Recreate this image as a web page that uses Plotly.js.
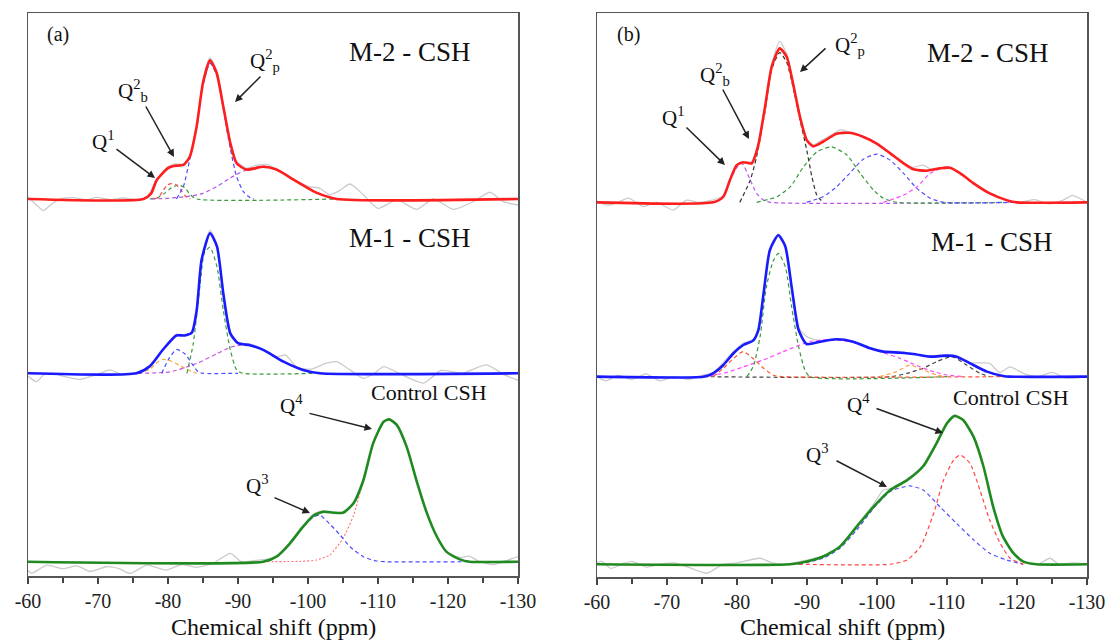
<!DOCTYPE html>
<html><head><meta charset="utf-8">
<script src="https://cdn.plot.ly/plotly-3.0.1.min.js"></script>
<style>html,body{margin:0;padding:0;background:#fff}#chart{width:1107px;height:642px}</style>
</head><body><div id="chart"></div><script>
// ---- axis ticks ----
const tickVals = [-60,-70,-80,-90,-100,-110,-120,-130];
const tickText = ['-60','-70','-80','-90','-100','-110','-120','-130'];
const minorVals = [-65,-75,-85,-95,-105,-115,-125];

// ---- panel (a) : M-2 - CSH  [ppm, intensity] ----
const aM2_fit = [[-60,0],[-76.5,0],[-77.6,0.04],[-78.4,0.136],[-80.0,0.22],[-80.8,0.236],[-82.2,0.243],[-83.1,0.30],[-84.1,0.52],[-85.0,0.83],[-86.0,0.99],[-86.95,0.90],[-87.9,0.66],[-88.9,0.40],[-89.8,0.255],[-91.2,0.21],[-93.6,0.23],[-95.5,0.21],[-98.4,0.124],[-101.2,0.045],[-104.1,0],[-130,0]];
const aM2_exp = [[-60,0.017],[-61.2,-0.043],[-62.2,-0.083],[-63.2,-0.043],[-64.6,0],[-66.5,0.01],[-68.4,-0.005],[-69.8,0.012],[-71.7,-0.005],[-73.6,0.007],[-75.5,-0.005],[-76.9,0.007],[-78.4,0.14],[-80,0.23],[-81,0.25],[-82.2,0.25],[-83.1,0.31],[-84.1,0.53],[-85,0.85],[-86,1.01],[-87,0.91],[-87.9,0.67],[-88.9,0.41],[-89.8,0.27],[-91.2,0.22],[-92.5,0.24],[-94.2,0.245],[-95.5,0.21],[-98.4,0.13],[-100,0.09],[-101.7,0.076],[-103.1,0.03],[-104.5,0.06],[-106,0.107],[-107.9,0.03],[-110,-0.067],[-112.7,-0.007],[-115.5,-0.074],[-117.9,0],[-120.8,-0.074],[-123.6,-0.019],[-126,0.048],[-127.9,-0.019],[-130,-0.043]];
const aM2_q1 = [[-78.0,0],[-78.6,0.01],[-79.3,0.06],[-79.9,0.10],[-80.5,0.11],[-81.2,0.10],[-81.9,0.06],[-82.5,0.02],[-83.2,0]];
const aM2_q2b = [[-77.4,0],[-78.5,0.01],[-79.5,0.04],[-80.5,0.08],[-81.5,0.10],[-82.4,0.08],[-83.2,0.03],[-84.1,0],[-104,0]];
const aM2_q2p = [[-81.2,0],[-82.2,0.09],[-83.1,0.28],[-84.1,0.52],[-85,0.81],[-86,0.97],[-87,0.88],[-87.9,0.64],[-88.9,0.36],[-89.8,0.16],[-90.8,0.05],[-91.7,0.01],[-92.3,0]];
const aM2_broad = [[-77.6,0],[-80,0.005],[-83.1,0.02],[-85,0.04],[-87,0.09],[-88.9,0.15],[-90.8,0.20],[-92.7,0.23],[-93.6,0.235],[-95.5,0.21],[-98.4,0.124],[-101.2,0.045],[-104.1,0]];

// ---- panel (a) : M-1 - CSH ----
const aM1_fit = [[-60,0],[-75.5,0],[-77.4,0.05],[-79.3,0.17],[-81.2,0.27],[-82.4,0.27],[-83.4,0.29],[-84.1,0.45],[-84.8,0.81],[-86.0,1.0],[-87.0,0.905],[-87.9,0.57],[-88.9,0.285],[-90.0,0.215],[-91.7,0.20],[-93.6,0.167],[-96.5,0.083],[-99.3,0.024],[-101.7,0],[-130,0]];
const aM1_exp = [[-60,-0.02],[-61.2,-0.06],[-62.2,-0.012],[-63.5,0],[-65,-0.02],[-67.4,-0.043],[-70.3,0],[-71.7,0.024],[-73.5,-0.01],[-75.5,0.005],[-77.4,0.055],[-79.3,0.17],[-81.2,0.28],[-82.4,0.27],[-83.4,0.29],[-84.1,0.46],[-84.8,0.82],[-86,1.02],[-87,0.92],[-87.9,0.58],[-88.9,0.29],[-90,0.22],[-91.7,0.21],[-93.6,0.17],[-95.5,0.12],[-96.8,0.13],[-98.5,0.04],[-100.5,0.03],[-102.5,0.07],[-104.1,0.083],[-106,0.024],[-107.9,-0.036],[-109.5,0],[-110.8,0.048],[-113,0],[-116.5,-0.07],[-119,0.02],[-122,0],[-125.5,0.06],[-128,-0.01],[-130,-0.05]];
const aM1_q1 = [[-75.7,0],[-77.4,0.03],[-78.5,0.08],[-79.3,0.1],[-80.3,0.09],[-81.5,0.06],[-82.8,0.025],[-84.1,0]];
const aM1_q2b = [[-79.1,0],[-80.2,0.11],[-81.2,0.17],[-82.4,0.14],[-83.4,0.07],[-84.3,0.01],[-85,0],[-90,0]];
const aM1_q2p = [[-82.7,0],[-83.6,0.21],[-84.6,0.64],[-85.2,0.86],[-86.0,0.90],[-87,0.76],[-87.9,0.45],[-88.9,0.167],[-89.8,0.024],[-90.7,0],[-101.5,0]];
const aM1_broad = [[-75.7,0],[-80.3,0.01],[-84.1,0.07],[-87,0.14],[-88.9,0.185],[-90.2,0.20],[-91.7,0.20],[-93.6,0.167],[-96.5,0.083],[-99.3,0.024],[-101.7,0]];

// ---- panel (a) : Control CSH ----
const aC_fit = [[-60,0],[-93.6,0],[-95.5,0.036],[-97.4,0.13],[-99.3,0.25],[-100.8,0.33],[-102.2,0.357],[-103.6,0.35],[-105.0,0.35],[-106.5,0.417],[-107.9,0.58],[-109.3,0.845],[-110.8,1.0],[-111.6,1.017],[-112.7,0.976],[-114.1,0.82],[-115.5,0.58],[-117.0,0.345],[-118.4,0.18],[-119.8,0.07],[-121.7,0.017],[-123.1,0],[-130,0]];
const aC_exp = [[-60,-0.06],[-60.5,-0.083],[-62.7,-0.024],[-65,-0.05],[-67,-0.03],[-68.9,-0.07],[-71.2,-0.036],[-73,-0.05],[-74.6,-0.083],[-77,-0.024],[-79.7,-0.06],[-82,-0.02],[-84,-0.04],[-86.5,-0.01],[-88.9,0.06],[-90.5,0],[-92.5,0.01],[-94.5,0.02],[-95.5,0.04],[-97.4,0.135],[-99.3,0.26],[-100.8,0.34],[-102.2,0.365],[-103.6,0.355],[-105,0.355],[-106.5,0.42],[-107.9,0.585],[-109.3,0.85],[-110.8,1.0],[-111.6,1.02],[-112.7,0.98],[-114.1,0.82],[-115.5,0.58],[-117,0.345],[-118.4,0.18],[-119.8,0.07],[-121.7,0.03],[-123,0.04],[-124.5,0],[-126.5,-0.02],[-128.5,0.01],[-130,0.036]];
const aC_q3 = [[-93.6,0],[-95.5,0.036],[-97.4,0.13],[-99.3,0.25],[-100.8,0.32],[-101.7,0.333],[-103.1,0.27],[-104.6,0.19],[-106,0.107],[-107.9,0.036],[-109.8,0.005],[-111,0],[-123,0]];
const aC_q4 = [[-93.6,0],[-99,0.003],[-101.2,0.012],[-103.1,0.048],[-105,0.167],[-106.5,0.33],[-107.9,0.58],[-109.3,0.845],[-110.8,1.0],[-111.6,1.017],[-112.7,0.976],[-114.1,0.82],[-115.5,0.58],[-117.0,0.345],[-118.4,0.18],[-119.8,0.07],[-121.7,0.017],[-123.1,0]];

// ---- panel (b) : M-2 - CSH ----
const bM2_fit = [[-60,0],[-76.6,0],[-78.05,0.04],[-79.0,0.16],[-79.96,0.266],[-80.9,0.286],[-82.1,0.279],[-83.0,0.40],[-84.0,0.68],[-84.96,0.97],[-86.1,1.10],[-87.1,1.04],[-88.0,0.85],[-89.0,0.61],[-89.96,0.445],[-90.9,0.40],[-92.3,0.433],[-94.2,0.49],[-96.1,0.497],[-98.0,0.469],[-99.96,0.42],[-101.9,0.35],[-103.8,0.279],[-105.2,0.236],[-107.1,0.226],[-109.0,0.243],[-110.4,0.247],[-111.9,0.207],[-113.8,0.136],[-116.1,0.064],[-118.5,0.016],[-119.96,0],[-130,0]];
const bM2_exp = [[-60,0.01],[-61.5,-0.02],[-63,0],[-64.5,0.03],[-66.6,-0.03],[-68.5,0],[-70.9,-0.055],[-72.8,0.016],[-74.5,0],[-76,0.01],[-78.05,0.05],[-79,0.17],[-80,0.27],[-80.9,0.29],[-82.1,0.29],[-83,0.41],[-84,0.69],[-85,0.99],[-86.1,1.15],[-87.1,1.06],[-88,0.86],[-89,0.62],[-90,0.45],[-90.9,0.41],[-92.3,0.45],[-93.8,0.49],[-94.8,0.52],[-96.1,0.50],[-98,0.47],[-100,0.42],[-101.9,0.35],[-103.8,0.28],[-105.2,0.25],[-106.6,0.266],[-108,0.23],[-109,0.245],[-110.4,0.25],[-111.9,0.21],[-113.8,0.14],[-116.1,0.07],[-118.5,0.02],[-120.5,0],[-122.5,0.02],[-124.5,-0.01],[-126.6,0.016],[-127.9,0.05],[-130,0]];
const bM2_q1 = [[-76.6,0],[-78.05,0.04],[-79.0,0.16],[-80.0,0.25],[-80.7,0.279],[-81.9,0.16],[-82.8,0.064],[-83.8,0.016],[-84.8,0],[-120,0]];
const bM2_q2p = [[-80.4,0],[-81.9,0.16],[-82.8,0.326],[-84,0.65],[-84.96,0.95],[-86.1,1.07],[-87.1,1.0],[-88,0.826],[-89,0.59],[-89.96,0.374],[-90.7,0.183],[-91.4,0.052],[-92.3,0]];
const bM2_c3 = [[-82.8,0],[-85.7,0.04],[-87.6,0.11],[-89.5,0.254],[-91.4,0.36],[-93.5,0.397],[-95.7,0.338],[-97.6,0.207],[-99.5,0.088],[-100.9,0.029],[-102.9,0],[-118,0]];
const bM2_c4 = [[-89.96,0],[-92.3,0.04],[-94.2,0.11],[-96.1,0.207],[-98,0.307],[-99.96,0.345],[-101.9,0.30],[-103.8,0.207],[-105.7,0.1],[-107.6,0.029],[-109.6,0],[-120,0]];
const bM2_c5 = [[-100.9,0],[-103.8,0.052],[-105.7,0.11],[-107.6,0.207],[-110,0.254],[-111.9,0.207],[-113.8,0.136],[-116.1,0.064],[-118.5,0.016],[-120,0]];

// ---- panel (b) : M-1 - CSH ----
const bM1_fit = [[-60,0],[-75.2,0],[-76.6,0.024],[-78.05,0.083],[-79.5,0.167],[-80.9,0.226],[-82.3,0.257],[-83.05,0.333],[-83.8,0.596],[-84.7,0.905],[-85.9,1.01],[-86.9,0.93],[-87.8,0.643],[-88.8,0.333],[-89.96,0.233],[-91.9,0.25],[-94.2,0.267],[-96.6,0.25],[-99.0,0.203],[-100.9,0.179],[-103.3,0.171],[-105.2,0.162],[-107.6,0.143],[-110.0,0.15],[-111.4,0.143],[-113.3,0.095],[-115.7,0.036],[-118.0,0.005],[-118.9,0],[-130,0]];
const bM1_exp = [[-60,0],[-61.3,-0.03],[-63,0.01],[-65,-0.02],[-67,0.02],[-69,-0.03],[-71,0],[-73,-0.02],[-75,0.01],[-76.6,0.03],[-78.05,0.1],[-79.5,0.18],[-80.9,0.24],[-82.3,0.265],[-83.05,0.34],[-83.8,0.6],[-84.7,0.91],[-85.9,1.02],[-86.9,0.94],[-87.8,0.65],[-88.8,0.35],[-89.96,0.286],[-91.9,0.255],[-94.2,0.27],[-96.6,0.25],[-99,0.21],[-100.9,0.18],[-103.3,0.18],[-105.2,0.16],[-107.6,0.15],[-110,0.155],[-111.4,0.145],[-113.3,0.1],[-116.1,0.095],[-117.5,0.03],[-119,0.07],[-120.9,0.024],[-123,0],[-125,0.03],[-127,-0.01],[-130,0]];
const bM1_q1 = [[-76.6,0],[-78.05,0.06],[-79.5,0.13],[-80.9,0.179],[-82.3,0.13],[-83.8,0.06],[-85.2,0.01],[-86.4,0],[-118,0]];
const bM1_q2p = [[-81.4,0],[-82.3,0.07],[-83.3,0.286],[-84.2,0.643],[-85.2,0.83],[-85.9,0.88],[-86.9,0.786],[-87.8,0.5],[-88.8,0.214],[-89.7,0.048],[-90.4,0],[-110,0]];
const bM1_c3 = [[-75.2,0],[-78.05,0.024],[-80.9,0.07],[-83.8,0.12],[-86.6,0.179],[-89.0,0.226],[-90.4,0.25],[-92,0.262],[-94.2,0.262],[-96.6,0.245],[-99.0,0.20],[-100.9,0.171],[-103.3,0.131],[-105.2,0.09],[-107.6,0.043],[-110,0.012],[-112.4,0]];
const bM1_c4 = [[-100.4,0],[-102.8,0.036],[-104.7,0.083],[-106.6,0.048],[-108.5,0.012],[-110,0]];
const bM1_c5 = [[-75.2,0],[-101.9,0],[-104.3,0.024],[-106.6,0.06],[-108.5,0.107],[-110.7,0.143],[-112.8,0.083],[-114.7,0.024],[-116.1,0]];

// ---- panel (b) : Control CSH ----
const bC_fit = [[-60,0],[-87.6,0],[-89.96,0.019],[-92.3,0.055],[-94.7,0.126],[-97.1,0.269],[-99.5,0.41],[-101.9,0.53],[-104.3,0.60],[-106.6,0.70],[-108.5,0.864],[-110.0,1.007],[-111.1,1.06],[-112.3,1.03],[-113.8,0.91],[-115.2,0.70],[-116.6,0.41],[-118.0,0.197],[-119.5,0.079],[-120.9,0.019],[-122.8,0],[-130,0]];
const bC_exp = [[-60,0.01],[-60.7,0.02],[-62,-0.03],[-63.5,0],[-65,0.02],[-67,-0.02],[-69,0],[-71,0.01],[-73,-0.02],[-75.7,-0.064],[-78,0],[-80,0.01],[-83.3,0.043],[-85,0.01],[-87,0],[-90,0.03],[-92.3,0.06],[-94.7,0.13],[-97.1,0.27],[-99.5,0.43],[-100.9,0.53],[-101.9,0.54],[-104.3,0.61],[-106.6,0.71],[-108.5,0.87],[-110,1.01],[-111.1,1.06],[-112.3,1.03],[-113.8,0.91],[-115.2,0.7],[-116.6,0.41],[-118,0.2],[-119.5,0.08],[-121,0.02],[-123,0],[-124.7,0.043],[-126,0],[-128,0.01],[-130,0.005]];
const bC_q3 = [[-88.8,0],[-92.3,0.043],[-94.7,0.114],[-97.1,0.245],[-99.5,0.40],[-101.9,0.52],[-104.7,0.56],[-106.6,0.53],[-109,0.41],[-111.4,0.29],[-113.8,0.174],[-116.1,0.079],[-118.5,0.031],[-120.9,0]];
const bC_q4 = [[-88.8,0],[-101.9,0],[-104.3,0.031],[-106.2,0.126],[-108.1,0.364],[-109.5,0.60],[-110.95,0.745],[-111.9,0.78],[-113.3,0.72],[-114.7,0.53],[-116.1,0.316],[-117.6,0.15],[-119,0.043],[-120.9,0]];

// ---- build ----
const W = 1107, H = 642;
const FONT = 'Liberation Serif, Times New Roman, serif';
const DASH = '4px,3px';
function tr(pts, off, xa, ya, color, width, dash) {
  return {x: pts.map(p => p[0]), y: pts.map(p => p[1] + off), xaxis: xa, yaxis: ya,
    type: 'scatter', mode: 'lines', hoverinfo: 'skip', showlegend: false,
    line: {color: color, width: width, dash: dash || 'solid', shape: 'spline', smoothing: 0.6}};
}
const GRAY = '#cbcbcb';
const offA = {m2: 2.593, m1: 1.348, c: 0.002};
const offB = {m2: 2.576, m1: 1.331, c: -0.009};
const traces = [
  // panel a
  tr(aM2_exp, offA.m2, 'x', 'y', GRAY, 1.3),
  tr(aM2_q2b, offA.m2, 'x', 'y', '#3a9a3a', 1.2, DASH),
  tr(aM2_q1, offA.m2, 'x', 'y', '#ff4a4a', 1.2, DASH),
  tr(aM2_broad, offA.m2, 'x', 'y', '#b657e0', 1.2, DASH),
  tr(aM2_q2p, offA.m2, 'x', 'y', '#4b4bff', 1.2, DASH),
  tr(aM2_fit, offA.m2, 'x', 'y', '#ff1e1e', 2.6),
  tr(aM1_exp, offA.m1, 'x', 'y', GRAY, 1.3),
  tr(aM1_q1, offA.m1, 'x', 'y', '#ffaa33', 1.2, DASH),
  tr(aM1_broad, offA.m1, 'x', 'y', '#c455dd', 1.2, DASH),
  tr(aM1_q2b, offA.m1, 'x', 'y', '#4b4bff', 1.2, DASH),
  tr(aM1_q2p, offA.m1, 'x', 'y', '#3a9a3a', 1.2, DASH),
  tr(aM1_fit, offA.m1, 'x', 'y', '#1a1aff', 2.6),
  tr(aC_exp, offA.c, 'x', 'y', GRAY, 1.3),
  tr(aC_q4, offA.c, 'x', 'y', '#ff7070', 1.1, '2px,2px'),
  tr(aC_q3, offA.c, 'x', 'y', '#4b4bff', 1.2, DASH),
  tr(aC_fit, offA.c, 'x', 'y', '#1f8a1f', 2.6),
  // panel b
  tr(bM2_exp, offB.m2, 'x2', 'y2', GRAY, 1.3),
  tr(bM2_q1, offB.m2, 'x2', 'y2', '#bb55ee', 1.2, DASH),
  tr(bM2_c3, offB.m2, 'x2', 'y2', '#3a9a3a', 1.2, DASH),
  tr(bM2_c4, offB.m2, 'x2', 'y2', '#5050ff', 1.2, DASH),
  tr(bM2_c5, offB.m2, 'x2', 'y2', '#ff44ff', 1.2, DASH),
  tr(bM2_q2p, offB.m2, 'x2', 'y2', '#333333', 1.2, DASH),
  tr(bM2_fit, offB.m2, 'x2', 'y2', '#ff1e1e', 2.6),
  tr(bM1_exp, offB.m1, 'x2', 'y2', GRAY, 1.3),
  tr(bM1_c5, offB.m1, 'x2', 'y2', '#444444', 1.2, DASH),
  tr(bM1_q1, offB.m1, 'x2', 'y2', '#ff5533', 1.2, DASH),
  tr(bM1_c4, offB.m1, 'x2', 'y2', '#ffa040', 1.2, DASH),
  tr(bM1_c3, offB.m1, 'x2', 'y2', '#ff44ff', 1.2, DASH),
  tr(bM1_q2p, offB.m1, 'x2', 'y2', '#3a9a3a', 1.2, DASH),
  tr(bM1_fit, offB.m1, 'x2', 'y2', '#1a1aff', 2.6),
  tr(bC_exp, offB.c, 'x2', 'y2', GRAY, 1.3),
  tr(bC_q3, offB.c, 'x2', 'y2', '#5050ff', 1.2, DASH),
  tr(bC_q4, offB.c, 'x2', 'y2', '#ff4444', 1.2, DASH),
  tr(bC_fit, offB.c, 'x2', 'y2', '#1f8a1f', 2.6)
];

function xAxis(d0, d1, anchor) {
  return {domain: [d0 / W, d1 / W], range: [-60, -130], anchor: anchor,
    tickmode: 'array', tickvals: tickVals, ticktext: tickText,
    ticks: 'outside', ticklen: 6, tickwidth: 1.2, tickcolor: '#444',
    showline: true, mirror: true, linecolor: '#555', linewidth: 1.5,
    showgrid: false, zeroline: false, automargin: false,
    tickfont: {family: FONT, size: 20, color: '#222'},
    minor: {tickvals: minorVals, ticks: 'outside', ticklen: 5, tickwidth: 1.2, tickcolor: '#444', showgrid: false}};
}
function yAxis(bottomPx, anchor, top) {
  return {domain: [1 - bottomPx / H, 1 - 13 / H], range: [-0.1, top], anchor: anchor,
    showline: true, mirror: true, linecolor: '#555', linewidth: 1.5,
    showticklabels: false, ticks: '', showgrid: false, zeroline: false, automargin: false, fixedrange: true};
}
function P(x, y) { return {x: x / W, y: 1 - y / H}; }
function label(x, y, text, size) {
  const p = P(x, y);
  return {xref: 'paper', yref: 'paper', x: p.x, y: p.y, text: text, showarrow: false,
    xanchor: 'center', yanchor: 'middle', font: {family: FONT, size: size, color: '#111'}};
}
function arrow(tx, ty, hx, hy) {
  const p = P(hx, hy);
  return {xref: 'paper', yref: 'paper', x: p.x, y: p.y, ax: tx - hx, ay: ty - hy, text: '',
    showarrow: true, arrowhead: 2, arrowsize: 1, arrowwidth: 1.5, arrowcolor: '#222',
    standoff: 0, startstandoff: 0, font: {size: 1}};
}
const Q1 = 'Q<sup>1</sup>', Q2b = 'Q<sup>2</sup><sub>b</sub>', Q2p = 'Q<sup>2</sup><sub>p</sub>';
const Q3 = 'Q<sup>3</sup>', Q4 = 'Q<sup>4</sup>';
const annotations = [
  label(58, 34, '(a)', 20), label(628, 34, '(b)', 20),
  label(410, 52, 'M-2 - CSH', 27), label(988, 53, 'M-2 - CSH', 27),
  label(410, 238, 'M-1 - CSH', 27), label(992, 242, 'M-1 - CSH', 27),
  label(429, 392, 'Control CSH', 22), label(1011, 397, 'Control CSH', 22),
  label(273, 627, 'Chemical shift (ppm)', 24), label(842, 627, 'Chemical shift (ppm)', 24),
  label(103, 140, Q1, 21), label(133, 90, Q2b, 21), label(265, 60, Q2p, 21),
  label(257, 484, Q3, 21), label(292, 404, Q4, 21),
  label(674, 116, Q1, 21), label(715, 75, Q2b, 21), label(850, 45, Q2p, 21),
  label(817, 453, Q3, 21), label(858, 403, Q4, 21),
  arrow(115, 148, 155, 178), arrow(145, 105, 174, 157), arrow(262, 75, 235, 102),
  arrow(273, 497, 310, 513), arrow(308, 413, 372, 429),
  arrow(685, 126, 725, 165), arrow(722, 88, 749, 139), arrow(827, 47, 800, 72),
  arrow(835, 460, 887, 487), arrow(875, 408, 943, 433)
];
const layout = {
  width: W, height: H, margin: {l: 0, r: 0, t: 0, b: 0},
  paper_bgcolor: '#fff', plot_bgcolor: '#fff', showlegend: false,
  xaxis: xAxis(28, 518, 'y'), yaxis: yAxis(576, 'x', -0.1 + 563 / 140),
  xaxis2: xAxis(597, 1087, 'y2'), yaxis2: yAxis(577, 'x2', -0.1 + 564 / 140),
  annotations: annotations
};
Plotly.newPlot('chart', traces, layout, {staticPlot: true, displayModeBar: false});
</script></body></html>
